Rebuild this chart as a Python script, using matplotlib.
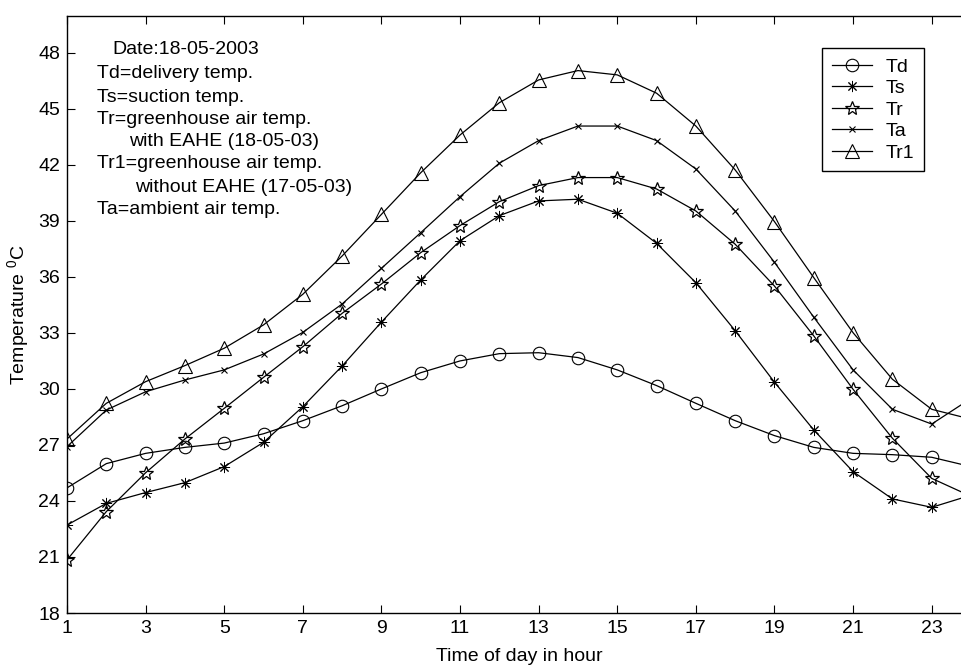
import matplotlib
matplotlib.use('Agg')
import matplotlib.pyplot as plt
import numpy as np

plt.rcParams['font.family'] = ['Liberation Sans', 'DejaVu Sans']
plt.rcParams['mathtext.fontset'] = 'custom'
plt.rcParams['mathtext.rm'] = 'Liberation Sans'
plt.rcParams['mathtext.it'] = 'Liberation Sans:italic'

#------------------------------------
# data (hour of day)
hours = list(range(1, 25))

td = [24.7, 26.0, 26.55, 26.87, 27.1, 27.6, 28.3, 29.1, 30.0, 30.87, 31.5, 31.89,
      31.94, 31.68, 31.02, 30.18, 29.23, 28.3, 27.5, 26.87, 26.55, 26.48, 26.34, 25.84]
ts = [22.71, 23.87, 24.45, 24.98, 25.84, 27.14, 29.05, 31.23, 33.58, 35.84, 37.94, 39.28,
      40.07, 40.16, 39.41, 37.8, 35.69, 33.12, 30.36, 27.8, 25.57, 24.11, 23.66, 24.31]
tr = [20.84, 23.43, 25.51, 27.32, 28.96, 30.62, 32.26, 34.05, 35.62, 37.3, 38.75, 40.03,
      40.89, 41.32, 41.32, 40.71, 39.53, 37.75, 35.51, 32.84, 29.98, 27.36, 25.21, 24.25]
ta = [26.91, 28.87, 29.85, 30.48, 31.02, 31.87, 33.03, 34.55, 36.46, 38.37, 40.3, 42.09,
      43.3, 44.08, 44.08, 43.3, 41.78, 39.53, 36.78, 33.84, 31.02, 28.91, 28.12, 29.49]
tr1 = [27.32, 29.23, 30.39, 31.25, 32.18, 33.43, 35.07, 37.12, 39.35, 41.58, 43.6, 45.33,
       46.55, 47.05, 46.82, 45.84, 44.08, 41.73, 38.96, 35.96, 33.01, 30.52, 28.91, 28.38]

labels = ['Td', 'Ts', 'Tr', 'Ta', 'Tr1']
xticks = list(range(1, 24, 2))
yticks = list(range(18, 49, 3))

note_lines = ['Date:18-05-2003', 'Td=delivery temp.', 'Ts=suction temp.',
              'Tr=greenhouse air temp.', 'with EAHE (18-05-03)',
              'Tr1=greenhouse air temp.', 'without EAHE (17-05-03)',
              'Ta=ambient air temp.']
#------------------------------------

W, H = 961, 668
fs = 14
fig = plt.figure(figsize=(W/100.0, H/100.0), dpi=100)
# axes right edge (x=24) lies just outside the picture, as in the original
ax = fig.add_axes([67.0/W, 55.0/H, 904.0/W, 597.5/H])

lw = 0.9
ax.plot(hours, td, '-', color='k', lw=lw, marker='o', ms=9, mfc='none', mec='k', mew=0.8, label=labels[0])
ax.plot(hours, ts, '-', color='k', lw=lw, marker=(8, 2, 0), ms=8, mec='k', mew=0.7, label=labels[1])
ax.plot(hours, tr, '-', color='k', lw=lw, marker='*', ms=10, mfc='none', mec='k', mew=0.9, label=labels[2])
ax.plot(hours, ta, '-', color='k', lw=lw, marker='x', ms=4, mec='k', mew=0.8, label=labels[3])
ax.plot(hours, tr1, '-', color='k', lw=lw, marker='^', ms=10, mfc='none', mec='k', mew=0.8, label=labels[4])

ax.set_xlim(1, 24)
ax.set_ylim(18, 50)
ax.set_xticks(xticks)
ax.set_yticks(yticks)
ax.tick_params(direction='in', top=True, right=True, length=6, width=0.8,
               labelsize=fs, pad=5)
for sp in ax.spines.values():
    sp.set_linewidth(1.0)

ax.set_xlabel('Time of day in hour', fontsize=fs, labelpad=8)
ax.set_ylabel('Temperature $^{0}$C', fontsize=fs, labelpad=5)

leg = ax.legend(loc='upper left', bbox_to_anchor=(0.835, 0.945), borderaxespad=0,
                fontsize=fs, fancybox=False, edgecolor='k', framealpha=1,
                handlelength=2.1, handletextpad=0.7, labelspacing=0.2,
                borderpad=0.5)
leg.get_frame().set_linewidth(1.0)

# annotation block
note_x = [112, 97, 97, 97, 129, 97, 135, 97]
note_y = [50, 73, 97, 120, 141, 163, 187, 210]
for s, px, py in zip(note_lines, note_x, note_y):
    fig.text(px/float(W), 1 - py/float(H), s, fontsize=fs, ha='left', va='center')

fig.savefig('out.png', dpi=100)
